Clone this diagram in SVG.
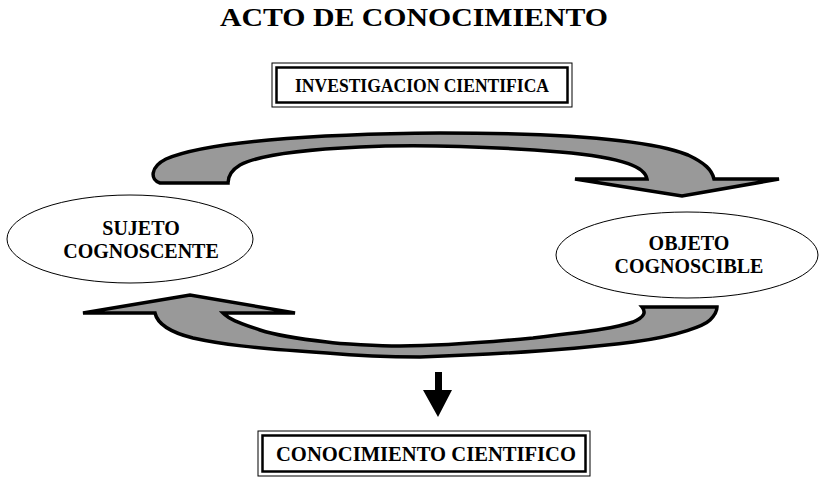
<svg xmlns="http://www.w3.org/2000/svg" width="823" height="477" viewBox="0 0 823 477">
<style>
.t{font-family:"Liberation Serif","Times New Roman",serif;font-weight:bold;fill:#000}
.ell{fill:#fff;stroke:#000;stroke-width:1}
.arc{fill:#999;stroke:#000;stroke-width:3.5;stroke-linejoin:miter}
.bo{fill:#fff;stroke:#000;stroke-width:1}
.bi{fill:none;stroke:#000;stroke-width:2.5}
</style>
<rect width="823" height="477" fill="#fff"/>
<text class="t" x="414" y="26" font-size="26" text-anchor="middle" textLength="388" lengthAdjust="spacingAndGlyphs">ACTO DE CONOCIMIENTO</text>
<g id="connectors">
<path class="arc" d="M160,183 C150,180 150,167 166,159 C205,142 310,134 440,133 C560,133 650,140 688,155 C705,163 712,170 714,179 L779,179 L682,196 L575,179 L647,179 C645,168 628,158 560,152 C500,147 420,144 360,147 C295,150 255,157 240,165 C230,171 228,177 228,183 Z"/>
<path class="arc" d="M155,313 C157,322 165,331 193,338 C220,344 250,348 327,353 C360,356 400,357 420,357 C480,355 560,351 633,342 C680,336 705,325 710,320 C716,314 717,310 717,307 L642,307 C646,312 645,317 633,322 C615,328 600,330 533,338 C480,343 440,346 400,346 C380,346 340,344 327,342 C300,339 275,335 260,330 C240,323 230,320 223,313 L295,313 L190,295 L83,313 Z"/>
<path d="M435,372 L442,372 L442,390 L452,390 L438,417 L423,390 L435,390 Z" fill="#000"/>
</g>
<g id="investigacion">
<rect class="bo" x="272" y="63" width="300" height="44"/>
<rect class="bi" x="276.5" y="67.5" width="291" height="35"/>
<text class="t" x="422" y="92" font-size="18" text-anchor="middle" textLength="254" lengthAdjust="spacingAndGlyphs">INVESTIGACION CIENTIFICA</text>
</g>
<g id="sujeto">
<ellipse class="ell" cx="130" cy="239" rx="123" ry="44"/>
<text class="t" x="141" y="235" font-size="20" text-anchor="middle">SUJETO</text>
<text class="t" x="141" y="258" font-size="20" text-anchor="middle">COGNOSCENTE</text>
</g>
<g id="objeto">
<ellipse class="ell" cx="687" cy="255" rx="131" ry="43"/>
<text class="t" x="689" y="250" font-size="20" text-anchor="middle">OBJETO</text>
<text class="t" x="689" y="273" font-size="20" text-anchor="middle">COGNOSCIBLE</text>
</g>
<g id="conocimiento">
<rect class="bo" x="258" y="431" width="332" height="45"/>
<rect class="bi" x="262.5" y="435.5" width="323" height="36"/>
<text class="t" x="426" y="461" font-size="20" text-anchor="middle" textLength="300" lengthAdjust="spacingAndGlyphs">CONOCIMIENTO CIENTIFICO</text>
</g>
</svg>
